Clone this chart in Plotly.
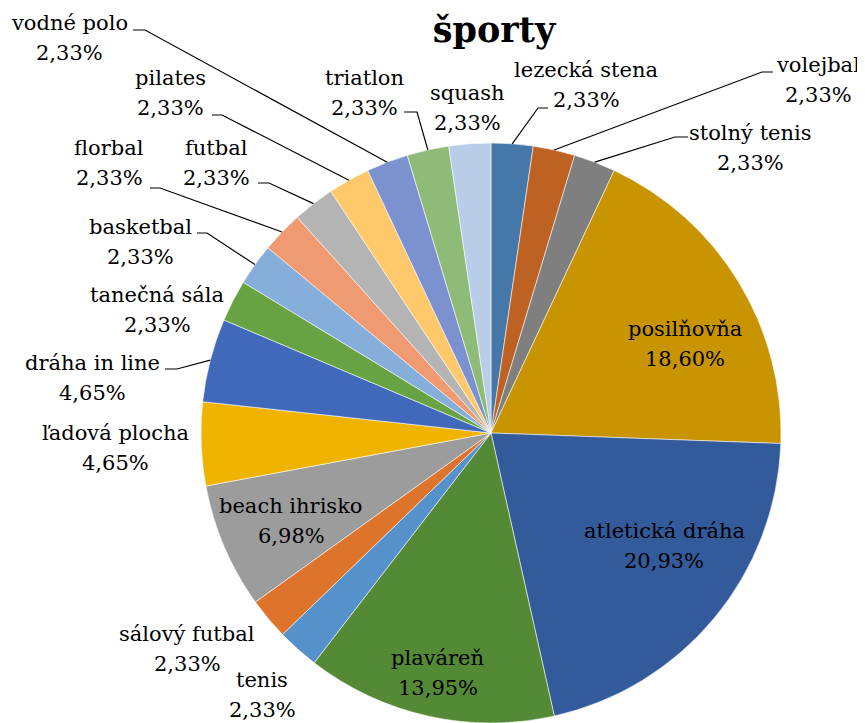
import math
import plotly.graph_objects as go

# ---------------- data ----------------
categories = [
    "lezecká stena", "volejbal", "stolný tenis", "posilňovňa", "atletická dráha",
    "plaváreň", "tenis", "sálový futbal", "beach ihrisko", "ľadová plocha",
    "dráha in line", "tanečná sála", "basketbal", "florbal", "futbal",
    "pilates", "vodné polo", "triatlon", "squash",
]
percent = [2.33, 2.33, 2.33, 18.60, 20.93, 13.95, 2.33, 2.33, 6.98, 4.65,
           4.65, 2.33, 2.33, 2.33, 2.33, 2.33, 2.33, 2.33, 2.33]
title_text = "športy"

# ---------------- styles ----------------
colors = [
    "#4577A9", "#BD6223", "#7F7F7F", "#C89400", "#335A9A",
    "#548935", "#5592CC", "#DE742C", "#9C9C9C", "#F0B400",
    "#4169BB", "#67A342", "#86AEDB", "#F09A72", "#B4B4B4",
    "#FFC96B", "#7C92D0", "#8FBB78", "#B7CDE8",
]

OFF = 8                             # page body margin of the browser
W, H = 865 - OFF, 723 - OFF
CX, CY, R = 491, 433, 290          # pie centre / radius in page pixels
FS = 21                             # label font size
TFS = 35                            # title font size
LINE_GAP = 30                       # distance between the two label lines
FONT = "DejaVu Serif"

# label placement: centre x, baseline of first line, leader elbow points (page pixels)
label_layout = {
    "lezecká stena": (586, 77, [(538, 108), (548, 108)]),
    "volejbal": (818, 72, [(762, 72), (773, 72)]),
    "stolný tenis": (750, 140, [(675, 137), (688, 137)]),
    "posilňovňa": (685, 336, None),
    "atletická dráha": (664, 538, None),
    "plaváreň": (438, 665, None),
    "tenis": (262, 687, None),
    "sálový futbal": (187, 641, None),
    "beach ihrisko": (291, 513, None),
    "ľadová plocha": (115, 440, None),
    "dráha in line": (92, 370, [(177, 369), (165, 369)]),
    "tanečná sála": (157, 302, None),
    "basketbal": (140, 234, [(207, 233), (197, 233)]),
    "florbal": (109, 155, [(160, 188), (150, 188)]),
    "futbal": (216, 155, [(269, 183), (258, 183)]),
    "pilates": (170, 85, [(222, 115), (212, 115)]),
    "vodné polo": (70, 30, [(145, 30), (133, 30)]),
    "triatlon": (364, 85, [(417, 112), (404, 112)]),
    "squash": (467, 100, None),
}


def px(x):
    return (x - OFF) / W


def py(y):
    return 1 - (y - OFF) / H


fig = go.Figure()
fig.add_trace(go.Pie(
    labels=categories,
    values=percent,
    sort=False,
    direction="clockwise",
    rotation=0,
    textinfo="none",
    hoverinfo="label+percent",
    marker=dict(colors=colors, line=dict(color="rgba(255,255,255,0.8)", width=0.7)),
    domain=dict(x=[px(CX - R), px(CX + R)], y=[max(0, py(CY + R)), py(CY - R)]),
    showlegend=False,
))

annotations = []
shapes = []
total = sum(percent)
cum = 0.0
for name, val in zip(categories, percent):
    mid = (cum + val / 2) / total * 2 * math.pi
    cum += val
    cx, b1, leader = label_layout[name]
    pct = f"{val:.2f}".replace(".", ",") + "%"
    for i, txt in enumerate([name, pct]):
        base = b1 + i * LINE_GAP
        annotations.append(dict(
            x=px(cx), y=py(base - 0.33 * FS), xref="paper", yref="paper",
            text=txt, showarrow=False, xanchor="center", yanchor="middle",
            font=dict(family=FONT, size=FS, color="#000000"),
        ))
    if leader:
        ex = CX + R * math.sin(mid)
        ey = CY - R * math.cos(mid)
        pts = [(ex, ey)] + leader
        path = "M " + " L ".join(f"{px(x):.5f},{py(y):.5f}" for x, y in pts)
        shapes.append(dict(type="path", path=path, xref="paper", yref="paper",
                           line=dict(color="#000000", width=1.2)))

fig.update_layout(
    width=W, height=H,
    margin=dict(l=0, r=0, t=0, b=0),
    paper_bgcolor="white", plot_bgcolor="white",
    title=dict(text=f"<b>{title_text}</b>", x=px(494), xanchor="center",
               y=py(41 - 0.33 * TFS), yanchor="middle", yref="paper",
               font=dict(family=FONT, size=TFS, color="#000000")),
    annotations=annotations,
    shapes=shapes,
)

fig.write_html("out.html")
